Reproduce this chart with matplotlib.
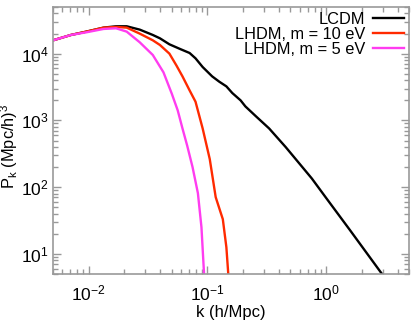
import numpy as np
import matplotlib
matplotlib.use("Agg")
import matplotlib.pyplot as plt

plt.rcParams['font.family'] = ['Liberation Sans', 'DejaVu Sans']
plt.rcParams['mathtext.fontset'] = 'custom'
plt.rcParams['mathtext.rm'] = 'Liberation Sans'
plt.rcParams['mathtext.it'] = 'Liberation Sans'

# log10 k and log10 P(k)
lcdm_logk = [-2.30, -2.15, -2.02, -1.875, -1.77, -1.68, -1.57, -1.46, -1.40, -1.32, -1.23,
             -1.15, -1.10, -1.04, -0.96, -0.90, -0.84, -0.79, -0.72, -0.68, -0.59, -0.48,
             -0.34, -0.12, 0.0, 0.2, 0.50]
lcdm_logp = [4.20, 4.28, 4.33, 4.39, 4.41, 4.41, 4.36, 4.28, 4.23, 4.14, 4.07,
             4.01, 3.93, 3.80, 3.66, 3.58, 3.51, 3.41, 3.30, 3.21, 3.06, 2.88,
             2.60, 2.13, 1.84, 1.36, 0.63]

hdm10_logk = [-2.30, -2.15, -2.02, -1.875, -1.77, -1.68, -1.57, -1.46, -1.40, -1.32, -1.26,
              -1.21, -1.15, -1.10, -1.04, -0.98, -0.93, -0.87, -0.84, -0.82]
hdm10_logp = [4.20, 4.28, 4.33, 4.39, 4.40, 4.39, 4.30, 4.20, 4.13, 4.00, 3.82,
              3.66, 3.45, 3.28, 2.88, 2.42, 1.85, 1.52, 1.10, 0.60]

hdm5_logk = [-2.30, -2.15, -2.02, -1.875, -1.77, -1.68, -1.57, -1.46, -1.37, -1.30, -1.25,
             -1.21, -1.17, -1.125, -1.08, -1.05, -1.025]
hdm5_logp = [4.20, 4.28, 4.32, 4.37, 4.38, 4.33, 4.17, 3.98, 3.72, 3.40, 3.15,
             2.88, 2.62, 2.30, 1.91, 1.40, 0.60]

labels = ['LCDM', 'LHDM, m = 10 eV', 'LHDM, m = 5 eV']
colors = ['black', '#ff2a00', '#ff3cf0']

fig = plt.figure(figsize=(4.17, 3.24), dpi=100)
ax = fig.add_axes([53/417, 1-274/324, 356/417, 267/324])

for lk, lp, lab, c in zip([lcdm_logk, hdm10_logk, hdm5_logk],
                          [lcdm_logp, hdm10_logp, hdm5_logp], labels, colors):
    ax.plot(10**np.array(lk), 10**np.array(lp), color=c, lw=1.7, label=lab,
            solid_joinstyle='round')

ax.set_xscale('log')
ax.set_yscale('log')
ax.set_xlim(5e-3, 5)
ax.set_ylim(5, 5e4)

for s in ax.spines.values():
    s.set_color('#999999')
    s.set_linewidth(1.2)
ax.tick_params(which='both', direction='in', top=True, right=True, color='#999999',
               labelsize=12.5, labelcolor='black')
ax.tick_params(which='major', length=6, width=1)
ax.tick_params(which='minor', length=3.5, width=1)
ax.tick_params(axis='x', pad=7)
ax.tick_params(axis='y', pad=3)

ax.set_xlabel('k (h/Mpc)', fontsize=12)
ax.xaxis.set_label_coords(0.5, -0.115)
ax.set_ylabel(r'P$_{\rm k}$ (Mpc/h)$^3$', fontsize=11.8)
ax.yaxis.set_label_coords(-0.092, 0.48)

ax.legend(loc='upper right', frameon=False, markerfirst=False, fontsize=11.8,
          handlelength=1.9, handletextpad=0.45, labelspacing=0.0,
          borderaxespad=0.2, borderpad=0.1)

fig.savefig('out.png', dpi=100)
